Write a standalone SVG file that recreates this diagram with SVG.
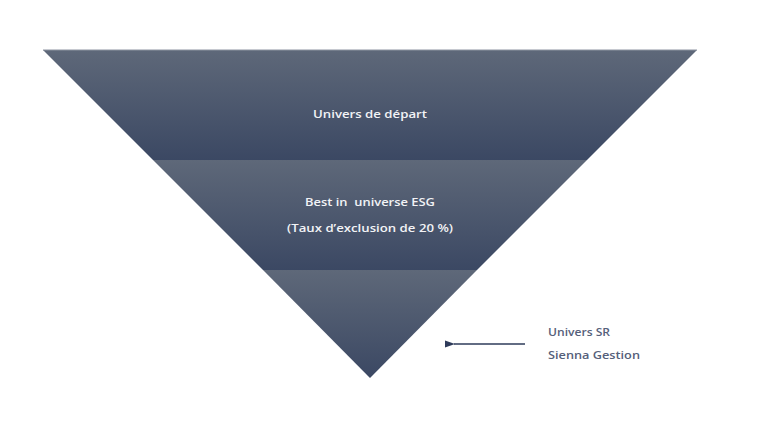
<svg xmlns="http://www.w3.org/2000/svg" width="760" height="440" viewBox="0 0 760 440">
  <defs>
    <linearGradient id="g1" x1="0" y1="50" x2="0" y2="160" gradientUnits="userSpaceOnUse">
      <stop offset="0" stop-color="#5e6879"/>
      <stop offset="1" stop-color="#3b4863"/>
    </linearGradient>
    <linearGradient id="g2" x1="0" y1="160" x2="0" y2="270" gradientUnits="userSpaceOnUse">
      <stop offset="0" stop-color="#5e6879"/>
      <stop offset="1" stop-color="#3b4863"/>
    </linearGradient>
    <linearGradient id="g3" x1="0" y1="270" x2="0" y2="378" gradientUnits="userSpaceOnUse">
      <stop offset="0" stop-color="#5e6879"/>
      <stop offset="1" stop-color="#3b4863"/>
    </linearGradient>
    <marker id="ah" viewBox="0 0 10 10" refX="1" refY="5" markerWidth="10" markerHeight="10" markerUnits="userSpaceOnUse" orient="auto">
      <path d="M10,1.5 L0,5 L10,8.5 Z" fill="#2e3b5a"/>
    </marker>
  </defs>
  <style>
    .lbl { font-family: "Open Sans", "Liberation Sans", sans-serif; font-size: 10.5px; font-weight: 600; fill: #f2f3f6; text-anchor: middle; }
    .side { font-family: "Open Sans", "Liberation Sans", sans-serif; font-size: 10.5px; font-weight: 600; fill: #55607a; }
    .edge { stroke: #8c93a0; stroke-width: 1; }
  </style>
  <rect width="760" height="440" fill="#ffffff"/>
  <g id="band-depart">
    <polygon points="43,50 697,50 587,160 153,160" fill="url(#g1)"/>
    <line class="edge" x1="43" y1="50" x2="697" y2="50"/>
    <text class="lbl" x="370" y="118" textLength="114" lengthAdjust="spacingAndGlyphs">Univers de départ</text>
  </g>
  <g id="band-esg">
    <polygon points="153,160 587,160 477,270 263,270" fill="url(#g2)"/>
    <text class="lbl" x="370" y="206" textLength="130" lengthAdjust="spacingAndGlyphs" xml:space="preserve">Best in  universe ESG</text>
    <text class="lbl" x="370" y="232" textLength="166" lengthAdjust="spacingAndGlyphs">(Taux d’exclusion de 20 %)</text>
  </g>
  <g id="band-sr">
    <polygon points="263,270 477,270 370,378" fill="url(#g3)"/>
  </g>
  <g id="connectors">
    <line x1="525" y1="344" x2="454" y2="344" stroke="#2e3b5a" stroke-width="1.5" marker-end="url(#ah)"/>
  </g>
  <g id="label-sr">
    <text class="side" x="548" y="336" textLength="62" lengthAdjust="spacingAndGlyphs">Univers SR</text>
    <text class="side" x="548" y="359" textLength="92" lengthAdjust="spacingAndGlyphs">Sienna Gestion</text>
  </g>
</svg>
